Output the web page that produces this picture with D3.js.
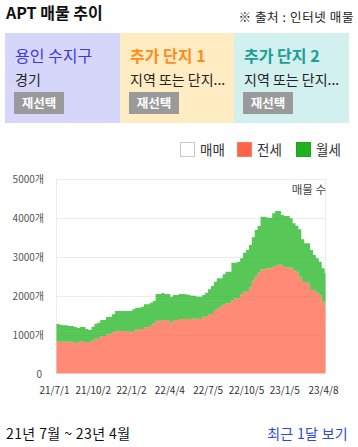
<!DOCTYPE html>
<html><head><meta charset="utf-8">
<script src="https://cdn.jsdelivr.net/npm/d3@7"></script>
<style>
html,body{margin:0;padding:0;background:#fff;}
svg{display:block;font-family:"Noto Sans CJK KR","Noto Sans",sans-serif;}
</style></head>
<body><svg id="c" width="358" height="447"></svg>
<script>
// ---- data ----
const startDate = "2021-07-01";   // first weekly point
const endDate = "2023-04-08";
const weekDays = 7;
// 전세 (weekly counts)
const jeonse = [815,815,815,815,815,815,790,790,833,808,808,800,841,892,892,962,962,1005,1005,1064,
 1082,1082,1090,1090,1072,1072,1072,1141,1141,1141,1184,1184,1227,1287,1355,1355,1372,1372,1355,1303,
 1372,1372,1397,1397,1397,1400,1405,1405,1405,1397,1456,1456,1526,1526,1628,1671,1713,1782,1800,1800,
 1885,1928,1928,2030,2098,2098,2210,2380,2500,2585,2671,2671,2697,2697,2738,2764,2800,2764,2723,2715,
 2715,2654,2610,2482,2372,2328,2328,2141,2141,2072,2013,1841,1731];
// 월세 (weekly counts)
const wolse = [455,435,420,420,403,403,400,377,357,382,333,315,359,385,411,410,410,444,444,456,
 521,521,513,513,531,531,573,547,547,572,590,590,589,572,683,683,692,666,683,667,
 641,641,641,641,633,613,590,590,565,573,557,617,633,718,727,770,728,762,810,810,
 956,913,939,924,999,1069,1085,1112,1179,1197,1350,1350,1298,1298,1369,1403,1367,1300,1315,1323,
 1264,1197,1180,1215,1069,1010,1010,1026,897,882,854,856,838];
const yTicks = [0,1000,2000,3000,4000,5000];
const xTickLabels = ["21/7/1","21/10/2","22/1/2","22/4/4","22/7/5","22/10/5","23/1/5","23/4/8"];
const legendNames = ["매매","전세","월세"];
const panelTitles = ["용인 수지구","추가 단지 1","추가 단지 2"];
const panelSubs = ["경기","지역 또는 단지...","지역 또는 단지..."];

// ---- setup ----
const svg = d3.select("#c");
const parse = d3.timeParse("%Y-%m-%d");
const t0 = parse(startDate), t1 = parse(endDate);
const rows = jeonse.map((v,i)=>({date:d3.timeDay.offset(t0, i*weekDays), jeonse:v, wolse:wolse[i]}));
rows.push({date:t1, jeonse:jeonse[jeonse.length-1], wolse:wolse[wolse.length-1]});

const L=56.5, R=325.5, T=178.5, B=373.5;
const x = d3.scaleTime().domain([t0,t1]).range([L,R]);
const y = d3.scaleLinear().domain([0,5000]).range([B,T]);

// header
svg.append("text").attr("x",6).attr("y",19).attr("font-size",16).attr("font-weight","bold").attr("fill","#111").text("APT 매물 추이");
svg.append("text").attr("x",354).attr("y",22).attr("text-anchor","end").attr("font-size",12.5).attr("letter-spacing",0.6).attr("fill","#222").text("※ 출처 : 인터넷 매물");

// panels
const panelX=[5,120,234], panelW=[115,114,115];
const panelBg=["#d6d6fa","#ffecc2","#d1f0ee"];
const titleCol=["#3a3ae6","#ff8c1a","#1a9e96"];
panelTitles.forEach((t,i)=>{
  const g = svg.append("g").attr("transform",`translate(${panelX[i]},33)`);
  g.append("rect").attr("width",panelW[i]).attr("height",90).attr("fill",panelBg[i]);
  g.append("text").attr("x",10).attr("y",29).attr("font-size",16).attr("fill",titleCol[i]).attr("font-weight", i===0?"normal":"bold").text(t);
  g.append("text").attr("x",10).attr("y",51.5).attr("font-size",14).attr("fill","#222").text(panelSubs[i]);
  g.append("rect").attr("x",9).attr("y",59).attr("width",50).attr("height",22).attr("fill","#9a9a9a");
  g.append("text").attr("x",34).attr("y",75).attr("text-anchor","middle").attr("font-size",12.5).attr("font-weight","bold").attr("fill","#fff").text("재선택");
});

// legend
const legX=[180,237,296];
const legFill=["#fff","#ff6347","#1db31d"];
const legStroke=["#c8c8d0","#ff7a5c","#2a9a2a"];
legendNames.forEach((n,i)=>{
  svg.append("rect").attr("x",legX[i]+0.5).attr("y",142.5).attr("width",14).attr("height",14)
    .attr("fill",legFill[i]).attr("stroke",legStroke[i]).attr("stroke-width",1);
  svg.append("text").attr("x",legX[i]+20).attr("y",154.5).attr("font-size",13.5).attr("fill","#333").text(n);
});

// grid + frame
svg.append("g").selectAll("line").data(yTicks).join("line")
  .attr("x1",L).attr("x2",R).attr("y1",d=>Math.round(y(d))+0.5).attr("y2",d=>Math.round(y(d))+0.5)
  .attr("stroke",d=>d===0?"none":"#ececec");
svg.append("line").attr("x1",L).attr("x2",L).attr("y1",T).attr("y2",B).attr("stroke","#ececec");
svg.append("line").attr("x1",R).attr("x2",R).attr("y1",T).attr("y2",B).attr("stroke","#ececec");

// y labels
svg.append("g").selectAll("text").data(yTicks).join("text")
  .attr("x",d=>d===0?42:44).attr("y",d=>y(d)+4).attr("text-anchor","end").attr("font-size",10).attr("fill","#555")
  .text(d=>d===0?"0":d+"개");

// stacked areas
const stack = d3.stack().keys(["jeonse","wolse"]);
const series = stack(rows);
const area = d3.area().curve(d3.curveStepAfter)
  .x(d=>x(d.data.date)).y0(d=>y(d[0])).y1(d=>y(d[1]));
const colors = {jeonse:"#ff6347", wolse:"#1db31d"};
svg.append("g").selectAll("path").data(series).join("path")
  .attr("d",area).attr("fill",d=>colors[d.key]).attr("fill-opacity",0.74);

// in-plot label
svg.append("text").attr("x",326).attr("y",194).attr("text-anchor","end").attr("font-size",11.5).attr("fill","#444").text("매물 수");

// x labels
const xTickDates = xTickLabels.map(s=>d3.timeParse("%y/%m/%d")(s));
svg.append("g").selectAll("text").data(xTickLabels).join("text")
  .attr("x",(d,i)=>x(xTickDates[i])-2).attr("y",394).attr("text-anchor","middle").attr("font-size",10).attr("fill","#333")
  .text(d=>d);

// footer
svg.append("text").attr("x",6).attr("y",439).attr("font-size",14).attr("letter-spacing",0.4).attr("fill","#111").text("21년 7월 ~ 23년 4월");
svg.append("text").attr("x",348).attr("y",439).attr("text-anchor","end").attr("font-size",14).attr("letter-spacing",0.3).attr("fill","#2b48e6").text("최근 1달 보기");
</script></body></html>
